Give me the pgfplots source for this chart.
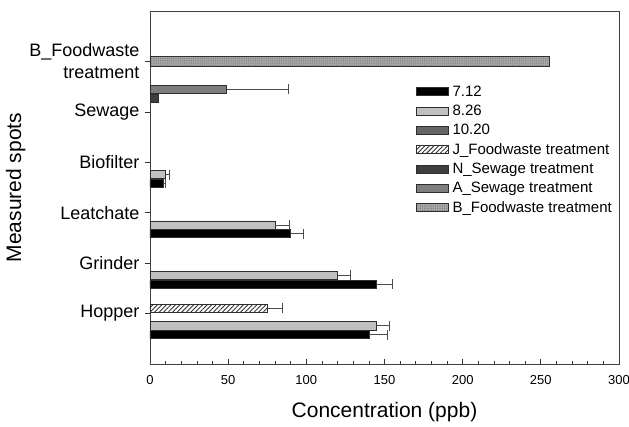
\documentclass[border=0pt]{standalone}
\usepackage{fontspec}
\setmainfont{Liberation Sans}
\usepackage{pgfplots}
\pgfplotsset{compat=1.18}
\usetikzlibrary{patterns.meta}
\definecolor{cA}{HTML}{7E7E7E}
\definecolor{cN}{HTML}{3E3E3E}
\definecolor{cT}{HTML}{666666}
\definecolor{cL}{HTML}{C0C0C0}
\definecolor{cB}{HTML}{A8A8A8}
\definecolor{edge}{HTML}{2E2E2E}
\pgfplotsset{
  hb/.style={xbar, bar width=0.16, bar shift=0pt, draw=edge, line width=0.7pt,
    legend image code/.code={\draw[##1, line width=0.7pt] (0pt,-4pt) rectangle (32pt,4pt);},
    error bars/x dir=plus, error bars/x explicit,
    error bars/error mark=|,
    error bars/error bar style={draw=black!70, line width=0.8pt},
    error bars/error mark options={draw=black!70, line width=0.8pt, mark size=5pt}},
}
\begin{document}
\begin{tikzpicture}
\useasboundingbox (0,0) rectangle (629pt,426pt);
\begin{axis}[
  at={(150pt,62pt)}, anchor=south west,
  scale only axis, width=469pt, height=353pt,
  xmin=0, xmax=300, ymin=-1, ymax=6,
  xtick={0,50,...,300}, minor x tick num=4,
  ytick={0,1,2,3,4,5},
  yticklabels={Hopper,Grinder,Leatchate,Biofilter,Sewage,{B\_Foodwaste\\treatment}},
  xtick pos=bottom, ytick pos=left,
  tick align=inside,
  major tick length=5pt, minor tick length=3pt,
  ytick style={xshift=-5pt},
  tick style={draw=black!80, line width=0.7pt},
  axis line style={draw=black!75, line width=0.8pt},
  /pgf/number format/assume math mode=true,
  xticklabel style={font=\fontsize{13}{15}\selectfont, yshift=-8pt},
  yticklabel style={font=\fontsize{18}{22}\selectfont, align=right, xshift=-7pt},
  xlabel={Concentration (ppb)},
  ylabel={Measured spots},
  xlabel style={font=\fontsize{21}{24}\selectfont, yshift=-11pt},
  ylabel style={font=\fontsize{21}{24}\selectfont, yshift=-3pt},
  legend style={at={(0.56,0.80)}, anchor=north west, draw=none, fill=none,
    font=\fontsize{15}{17}\selectfont, row sep=3.2pt,
    nodes={inner xsep=4pt}},
  legend cell align=left,
]
% 7.12
\addplot[hb, fill=black] coordinates {
  (140,-0.417) +- (12,0)
  (145,0.583) +- (10,0)
  (90,1.583) +- (8,0)
  (8.5,2.583) +- (1.5,0)
};
\addlegendentry{7.12}
% 8.26
\addplot[hb, fill=cL] coordinates {
  (145,-0.244) +- (8,0)
  (120,0.756) +- (8,0)
  (80,1.756) +- (9,0)
  (10,2.756) +- (2.4,0)
};
\addlegendentry{8.26}
% 10.20 (no bars)
\addlegendimage{hb, fill=cT}
\addlegendentry{10.20}
% J_Foodwaste treatment
\addplot[hb, fill=white, postaction={pattern={Lines[angle=45,distance=3.2pt,line width=0.9pt]}, pattern color=black!80}] coordinates {
  (75,0.101) +- (10,0)
};
\addlegendentry{J\_Foodwaste treatment}
% N_Sewage treatment
\addplot[hb, fill=cN] coordinates {
  (5.5,4.274)
};
\addlegendentry{N\_Sewage treatment}
% A_Sewage treatment
\addplot[hb, fill=cA] coordinates {
  (49,4.446) +- (39.7,0)
};
\addlegendentry{A\_Sewage treatment}
% B_Foodwaste treatment
\addplot[hb, fill=cB, postaction={pattern={Dots[distance=2.2pt,radius=0.6pt]}, pattern color=black!55}, bar width=0.2] coordinates {
  (255.3,5)
};
\addlegendentry{B\_Foodwaste treatment}
\end{axis}
\end{tikzpicture}
\end{document}
